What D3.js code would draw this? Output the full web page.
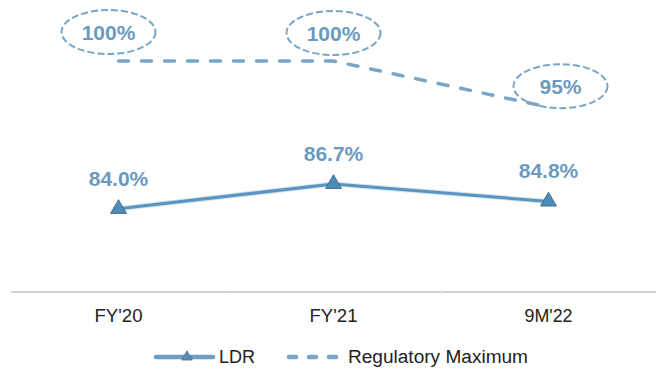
<!DOCTYPE html>
<html>
<head>
<meta charset="utf-8">
<script src="https://cdn.jsdelivr.net/npm/d3@7/dist/d3.min.js"></script>
<style>
  html, body { margin: 0; padding: 0; background: #fff; }
  svg { display: block; font-family: "Liberation Sans", Arial, sans-serif; }
</style>
</head>
<body>
<svg id="chart" width="656" height="369"></svg>
<script>
// Loan-to-deposit ratio against the regulatory ceiling
const periods = ["FY'20", "FY'21", "9M'22"];
const ldr = [84.0, 86.7, 84.8];
const regulatoryMax = [100, 100, 95];
const ldrLabels = ["84.0%", "86.7%", "84.8%"];
const maxLabels = ["100%", "100%", "95%"];
const legendNames = ["LDR", "Regulatory Maximum"];

const svg = d3.select("#chart");

const x = d3.scaleBand().domain(periods).range([11, 656]);
const y = d3.scaleLinear().domain([75, 100]).range([292, 61]);
const cx = d => x(d) + x.bandwidth() / 2;

const LDR_COLOR = "#5a95c1";
const MAX_COLOR = "#79a5c7";
const LABEL_COLOR = "#6c9abf";

// x axis: light baseline with faint boundary ticks
const axis = d3.axisBottom(x).tickSize(0).tickPadding(0);
const gx = svg.append("g").attr("transform", "translate(0,292)").call(axis);
gx.select(".domain").attr("stroke", "#d3d3d3").attr("stroke-width", 2).attr("d", "M11,0H656");
gx.selectAll(".tick text").remove();
gx.selectAll(".tick line").remove();
periods.slice(1).forEach(p => {
  gx.append("line").attr("x1", x(p)).attr("x2", x(p)).attr("y1", -2).attr("y2", 2)
    .attr("stroke", "#e0e0e0").attr("stroke-width", 1);
});
svg.append("g").selectAll("text").data(periods).join("text")
  .attr("x", d => cx(d)).attr("y", 322)
  .attr("text-anchor", "middle").attr("font-size", 19).attr("fill", "#222")
  .attr("textLength", 48).attr("lengthAdjust", "spacingAndGlyphs")
  .text(d => d);

// Regulatory maximum: dashed line
const maxLine = d3.line().x((d, i) => cx(periods[i])).y(d => y(d));
svg.append("path").datum(regulatoryMax)
  .attr("d", maxLine).attr("fill", "none")
  .attr("stroke", MAX_COLOR).attr("stroke-width", 3.5)
  .attr("stroke-dasharray", "10 13").attr("stroke-linecap", "round");

// Callout ellipses for the ceiling values
const calloutDx = [-10, 0, 12];
const calloutDy = [-29, -28, -21];
const callouts = svg.append("g").selectAll("g").data(regulatoryMax).join("g")
  .attr("transform", (d, i) => `translate(${cx(periods[i]) + calloutDx[i]},${y(d) + calloutDy[i]})`);
callouts.append("ellipse")
  .attr("rx", 47).attr("ry", 22)
  .attr("fill", "none")
  .attr("stroke", MAX_COLOR).attr("stroke-width", 2)
  .attr("stroke-dasharray", "7 3");
callouts.append("text")
  .attr("text-anchor", "middle").attr("y", 8)
  .attr("font-size", 21).attr("font-weight", "bold").attr("fill", LABEL_COLOR)
  .text((d, i) => maxLabels[i]);

// LDR line with triangle markers
const ldrLine = d3.line().x((d, i) => cx(periods[i])).y(d => y(d));
svg.append("path").datum(ldr)
  .attr("d", ldrLine).attr("fill", "none")
  .attr("stroke", "#a9c9e0").attr("stroke-width", 5).attr("stroke-opacity", 0.5);
svg.append("path").datum(ldr)
  .attr("d", ldrLine).attr("fill", "none")
  .attr("stroke", LDR_COLOR).attr("stroke-width", 3);

const tri = d3.symbol().type(d3.symbolTriangle).size(110);
svg.append("g").selectAll("path").data(ldr).join("path")
  .attr("d", tri)
  .attr("transform", (d, i) => `translate(${cx(periods[i])},${y(d)})`)
  .attr("fill", "#4c8cbc").attr("stroke", "#3a5c74").attr("stroke-width", 0.8);

svg.append("g").selectAll("text").data(ldr).join("text")
  .attr("x", (d, i) => cx(periods[i])).attr("y", d => y(d) - 23)
  .attr("text-anchor", "middle").attr("font-size", 21).attr("font-weight", "bold")
  .attr("fill", LABEL_COLOR)
  .text((d, i) => ldrLabels[i]);

// Legend
const lg = svg.append("g").attr("transform", "translate(0,357)");
lg.append("line").attr("x1", 156).attr("x2", 213).attr("y1", 0).attr("y2", 0)
  .attr("stroke", "#6c9ec5").attr("stroke-width", 4.5).attr("stroke-linecap", "round");
lg.append("path").attr("d", d3.symbol().type(d3.symbolTriangle).size(50))
  .attr("transform", "translate(187,0)").attr("fill", "#5b8fb8").attr("stroke", "#3a5c74").attr("stroke-width", 0.6);
lg.append("text").attr("x", 219).attr("y", 6).attr("font-size", 18).attr("fill", "#222")
  .text(legendNames[0]);
lg.append("line").attr("x1", 289).attr("x2", 343).attr("y1", 0).attr("y2", 0)
  .attr("stroke", MAX_COLOR).attr("stroke-width", 4.5)
  .attr("stroke-dasharray", "7 13").attr("stroke-linecap", "round");
lg.append("text").attr("x", 348).attr("y", 6).attr("font-size", 18).attr("fill", "#222")
  .attr("textLength", 180).attr("lengthAdjust", "spacingAndGlyphs")
  .text(legendNames[1]);
</script>
</body>
</html>
